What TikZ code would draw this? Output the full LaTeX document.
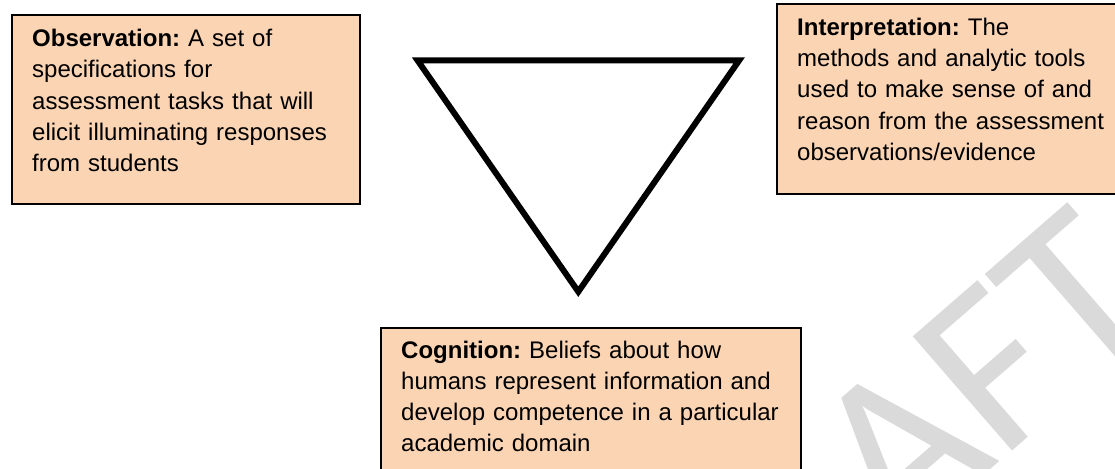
\documentclass[tikz,border=0pt]{standalone}
\usepackage{fontspec}
\setmainfont{Liberation Sans}
\newfontfamily\wmfont{Carlito}
\definecolor{peach}{HTML}{FBD4B4}
\definecolor{wmgray}{HTML}{DADADA}

\begin{document}
\frenchspacing
\begin{tikzpicture}[x=1pt, y=-1pt,
    box/.style={draw=black, line width=2pt, fill=peach, inner sep=0pt, anchor=north west},
    boxtext/.style={anchor=base west, inner sep=0pt, align=left, text width=400pt,
      font=\fontsize{24}{31.3}\selectfont}]
    \path[use as bounding box, clip] (0,0) rectangle (1115,468);

    % watermark behind everything
    \node[text=wmgray, font=\wmfont\fontsize{236}{236}\selectfont,
      rotate=41, anchor=north east, inner sep=0pt] (draft) at (1070,200) {DRAFT};

    \draw[line width=6pt] (417.5,60.3) -- (739.2,60.3) -- (578.3,291.7) -- cycle;

    % the three boxes
    \node[box, minimum width=348pt, minimum height=189pt] (obs) at (11,14) {};
    \node[box, minimum width=348pt, minimum height=190pt] (interp) at (776,3) {};
    \node[box, minimum width=420pt, minimum height=190pt] (cog) at (380,327) {};

    \node[boxtext] (obs-text) at ([shift={(21,32.5)}]obs.north west)
      {\textbf{Observation:} A set of\\ specifications for\\ assessment tasks that will\\
       elicit illuminating responses\\ from students};
    \node[boxtext] (interp-text) at ([shift={(21,32.3)}]interp.north west)
      {\textbf{Interpretation:} The\\ methods and analytic tools\\ used to make sense of and\\
       reason from the assessment\\ observations/evidence};
    \node[boxtext] (cog-text) at ([shift={(21,31)}]cog.north west)
      {\textbf{Cognition:} Beliefs about how\\ humans represent information and\\
       develop competence in a particular\\ academic domain};
\end{tikzpicture}
\end{document}
